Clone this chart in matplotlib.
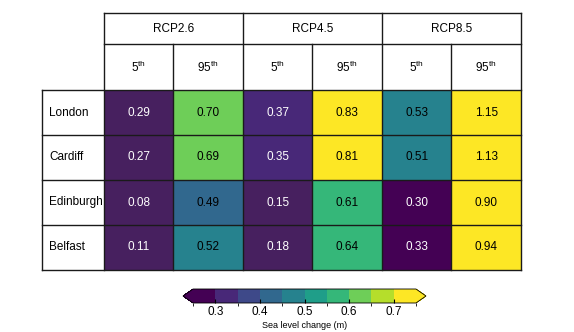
import matplotlib
matplotlib.use("Agg")
import matplotlib.pyplot as plt
import matplotlib.colors as mcolors
import numpy as np

plt.rcParams["font.family"] = ["Liberation Sans", "DejaVu Sans"]
plt.rcParams["mathtext.fontset"] = "custom"
plt.rcParams["mathtext.rm"] = "Liberation Sans"

# --- data (values as estimated, shown to 2 decimals)
cities = ["London", "Cardiff", "Edinburgh", "Belfast"]
scenarios = ["RCP2.6", "RCP4.5", "RCP8.5"]
percentiles = ["5", "95"]
rcp26_5 = [0.29, 0.27, 0.08, 0.11]
rcp26_95 = [0.698, 0.69, 0.49, 0.52]
rcp45_5 = [0.37, 0.35, 0.15, 0.18]
rcp45_95 = [0.83, 0.81, 0.61, 0.64]
rcp85_5 = [0.53, 0.51, 0.30, 0.33]
rcp85_95 = [1.15, 1.13, 0.90, 0.94]
cell_levels = [0.30, 0.35, 0.40, 0.45, 0.50, 0.55, 0.60, 0.65, 0.70, 0.75, 0.80]
cbar_levels = [0.25, 0.30, 0.35, 0.40, 0.45, 0.50, 0.55, 0.60, 0.65, 0.70, 0.75]
cbar_ticks = [0.3, 0.4, 0.5, 0.6, 0.7]

values = np.array([rcp26_5, rcp26_95, rcp45_5, rcp45_95, rcp85_5, rcp85_95]).T
nrow, ncol = values.shape

colors = plt.get_cmap("viridis")(np.linspace(0, 1, 10))
cell_cmap = mcolors.ListedColormap(colors)
cell_cmap.set_under("#47205f")
cell_cmap.set_over(colors[-1])
cell_norm = mcolors.BoundaryNorm(cell_levels, 10)

fig = plt.figure(figsize=(5.74, 3.32), dpi=100)
W, H = 574, 332
# table axes: x from city column to 6, y data rows 0..4, headers above
ax = fig.add_axes([42 / W, 1 - 270 / H, 479 / W, 257 / H])
h2 = 46 / 45
h1 = 31 / 45
cw = 62 / 69.6
ax.set_xlim(-cw, ncol)
ax.set_ylim(nrow, -(h1 + h2))
ax.axis("off")

ax.pcolormesh(np.arange(ncol + 1), np.arange(nrow + 1), values,
              cmap=cell_cmap, norm=cell_norm)

lw = 1.0
lc = "#1a1a1a"
# grid lines
for r in range(nrow + 1):
    ax.plot([-cw, ncol], [r, r], color=lc, lw=lw, clip_on=False)
ax.plot([0, ncol], [-h2, -h2], color=lc, lw=lw, clip_on=False)
ax.plot([0, ncol], [-(h1 + h2), -(h1 + h2)], color=lc, lw=lw, clip_on=False)
ax.plot([-cw, -cw], [0, nrow], color=lc, lw=lw, clip_on=False)
for c in range(ncol + 1):
    top = -(h1 + h2) if c % 2 == 0 else -h2
    ax.plot([c, c], [top, nrow], color=lc, lw=lw, clip_on=False)

fs = 8.5
for i, s in enumerate(scenarios):
    ax.text(2 * i + 1, -(h2 + h1 / 2), s, ha="center", va="center", fontsize=fs)
for j in range(ncol):
    p = percentiles[j % 2]
    ax.text(j + 0.5, -h2 / 2, p + r"$^{\mathrm{th}}$", ha="center", va="center",
            fontsize=fs)
for r, city in enumerate(cities):
    ax.text(-cw + 0.1, r + 0.5, city, ha="left", va="center", fontsize=fs)
    for c in range(ncol):
        v = values[r, c]
        rgb = cell_cmap(cell_norm(v))[:3]
        lum = 0.2126 * rgb[0] + 0.7152 * rgb[1] + 0.0722 * rgb[2]
        tc = "white" if lum < 0.35 else "black"
        ax.text(c + 0.5, r + 0.5, f"{v:.2f}", ha="center", va="center",
                fontsize=fs, color=tc)

# colorbar
cb_cmap = mcolors.ListedColormap(colors)
cb_cmap.set_under(colors[0])
cb_cmap.set_over(colors[-1])
cb_norm = mcolors.BoundaryNorm(cbar_levels, 10)
cax = fig.add_axes([183 / W, 1 - 303 / H, 243 / W, 14 / H])
sm = plt.cm.ScalarMappable(norm=cb_norm, cmap=cb_cmap)
cb = fig.colorbar(sm, cax=cax, orientation="horizontal", extend="both",
                  extendfrac=0.045, ticks=cbar_ticks)
cb.outline.set_linewidth(0.6)
cb.ax.tick_params(direction="in", length=3, width=0.8, labelsize=8.5, pad=2)
cb.ax.set_xticklabels([f"{t:.1f}" for t in cbar_ticks])
cb.set_label("Sea level change (m)", fontsize=6.5, labelpad=2)

fig.savefig("out.png", dpi=100)
